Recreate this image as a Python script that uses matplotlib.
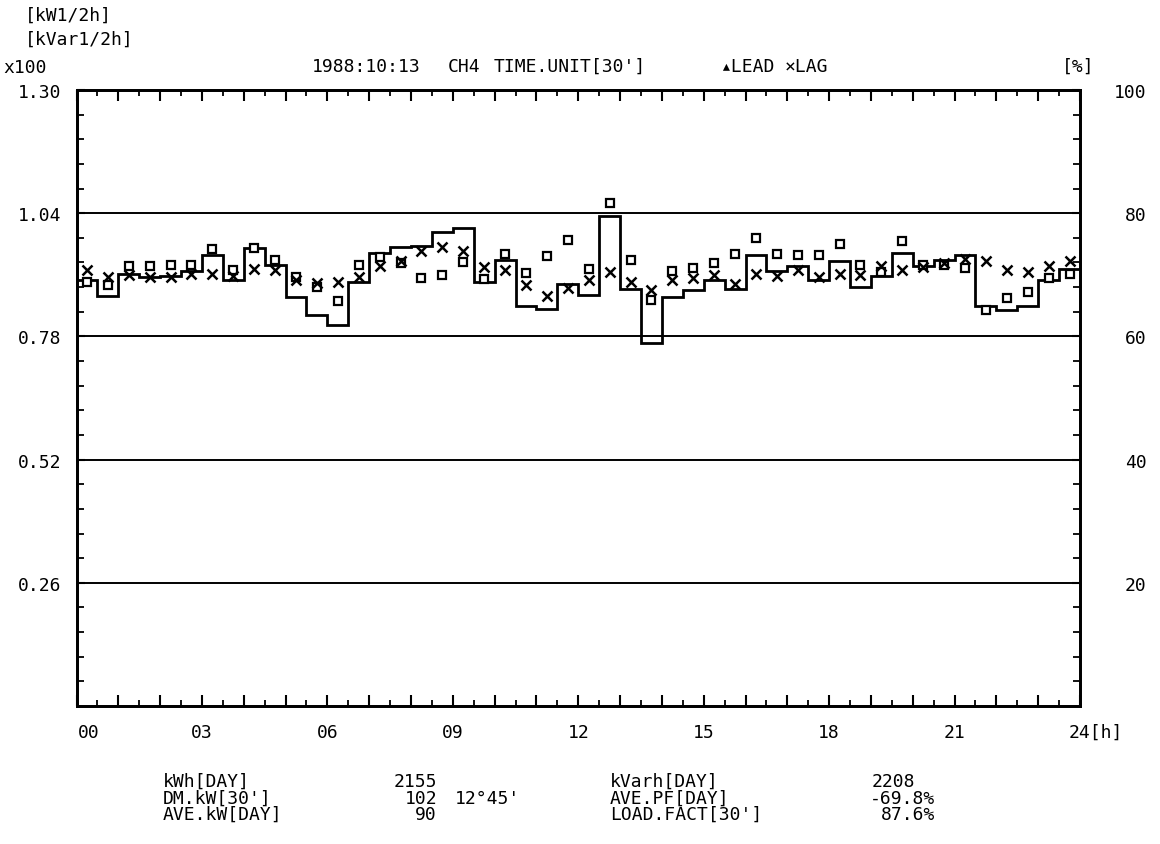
import numpy as np
import matplotlib
matplotlib.use("Agg")
import matplotlib.pyplot as plt
from matplotlib.transforms import ScaledTranslation

plt.rcParams['font.family'] = ['DejaVu Sans Mono', 'DejaVu Sans']

# ---- data (half-hour intervals, 00:00 - 24:00) ----
kw_x100 = [0.900, 0.865, 0.912, 0.905, 0.907, 0.919, 0.952, 0.900, 0.966, 0.931,
           0.863, 0.825, 0.804, 0.895, 0.956, 0.968, 0.970, 1.001, 1.008, 0.895,
           0.941, 0.844, 0.837, 0.891, 0.867, 1.034, 0.881, 0.767, 0.863, 0.877,
           0.898, 0.881, 0.951, 0.917, 0.928, 0.900, 0.940, 0.884, 0.907, 0.956,
           0.928, 0.942, 0.951, 0.844, 0.835, 0.844, 0.898, 0.923]
kvar_x100 = [0.895, 0.888, 0.928, 0.928, 0.930, 0.930, 0.965, 0.920, 0.966, 0.942,
             0.906, 0.884, 0.854, 0.931, 0.947, 0.935, 0.903, 0.910, 0.938, 0.902,
             0.954, 0.914, 0.949, 0.984, 0.923, 1.061, 0.942, 0.856, 0.919, 0.924,
             0.935, 0.954, 0.987, 0.954, 0.952, 0.952, 0.975, 0.931, 0.916, 0.982,
             0.930, 0.931, 0.924, 0.835, 0.860, 0.874, 0.903, 0.912]
pf_lag_pct = [70.7, 69.6, 69.9, 69.6, 69.6, 70.2, 70.2, 69.8, 71.0, 70.8,
              69.2, 68.7, 68.9, 69.6, 71.4, 72.3, 73.9, 74.5, 73.9, 71.2,
              70.7, 68.3, 66.5, 67.8, 69.1, 70.5, 68.8, 67.5, 69.2, 69.5,
              69.9, 68.5, 70.2, 69.8, 70.7, 69.6, 70.2, 70.0, 71.5, 70.7,
              71.2, 71.9, 72.6, 72.3, 70.7, 70.5, 71.4, 72.3]

left_ticks = [0.26, 0.52, 0.78, 1.04, 1.30]
left_labels = ['0.26', '0.52', '0.78', '1.04', '1.30']
right_ticks = [20, 40, 60, 80, 100]
right_labels = ['20', '40', '60', '80', '100']
hour_ticks = list(range(25))
hour_labels = ['00' if h == 0 else ('24[h]' if h == 24 else (f'{h:02d}' if h % 3 == 0 else ''))
               for h in hour_ticks]

summary_left = [('kWh[DAY]', '2155'), ("DM.kW[30']", '102'), ('AVE.kW[DAY]', '90')]
summary_right = [('kVarh[DAY]', '2208'), ('AVE.PF[DAY]', '-69.8%'), ("LOAD.FACT[30']", '87.6%')]
dm_time = "12\u00b045'"

W, H = 1160, 845
fig = plt.figure(figsize=(W / 100, H / 100), dpi=100)
L, R, T, B = 76.5, 1080, 91, 707
ax = fig.add_axes([L / W, (H - B) / H, (R - L) / W, (B - T) / H])

edges = np.arange(len(kw_x100) + 1) * 0.5
centers = (edges[:-1] + edges[1:]) / 2

ax.set_xlim(0, 24)
ax.set_ylim(0, 1.30)

for g in left_ticks[:-1]:
    ax.axhline(g, color='black', lw=1.4, zorder=1)

ax.stairs(kw_x100, edges, baseline=None, color='black', lw=2.0, zorder=3)
ax.plot(centers, kvar_x100, linestyle='none', marker='s', markersize=5.5,
        markerfacecolor='white', markeredgecolor='black', markeredgewidth=1.6, zorder=4)

ax2 = ax.twinx()
ax2.set_ylim(0, 100)
ax2.plot(centers, pf_lag_pct, linestyle='none', marker='x', markersize=7,
         color='black', markeredgewidth=1.8, zorder=5)

fs = 13
for a in (ax, ax2):
    for s in a.spines.values():
        s.set_linewidth(2.0)
        s.set_color('black')

ax.set_xticks(hour_ticks)
ax.set_xticklabels(hour_labels, fontsize=fs)
ax.set_xticks(np.arange(0.5, 24, 1.0), minor=True)
ax.tick_params(axis='x', which='major', direction='in', length=8, width=1.5,
               top=True, bottom=True, pad=12)
ax.tick_params(axis='x', which='minor', direction='in', length=4, width=1.3,
               top=True, bottom=True)
lbls = ax.get_xticklabels()
lbls[0].set_transform(lbls[0].get_transform() + ScaledTranslation(12 / 100, 0, fig.dpi_scale_trans))
lbls[-1].set_transform(lbls[-1].get_transform() + ScaledTranslation(16 / 100, 0, fig.dpi_scale_trans))

ax.set_yticks(left_ticks)
ax.set_yticklabels(left_labels, fontsize=fs)
ax.set_yticks(np.arange(0.052, 1.30, 0.052), minor=True)
ax.tick_params(axis='y', which='major', direction='in', length=6, width=1.5, pad=11)
ax.tick_params(axis='y', which='minor', direction='in', length=5, width=1.3)

ax2.set_yticks(right_ticks)
ax2.set_yticklabels(right_labels, fontsize=fs)
ax2.set_yticks(np.arange(4, 100, 4), minor=True)
ax2.tick_params(axis='y', which='major', direction='in', length=6, width=1.5, pad=48)
ax2.tick_params(axis='y', which='minor', direction='in', length=5, width=1.3)
for t in ax2.get_yticklabels():
    t.set_horizontalalignment('right')


def ftext(x, y, s, ha='left', **kw):
    fig.text(x / W, 1 - y / H, s, ha=ha, va='center', fontsize=fs, color='black', **kw)


ftext(25, 16, '[kW1/2h]')
ftext(25, 40, '[kVar1/2h]')
ftext(3, 68, 'x100')

ftext(312, 67, '1988:10:13')
ftext(448, 67, 'CH4')
ftext(494, 67, "TIME.UNIT[30']")
ftext(720, 67, '\u25b4LEAD')
ftext(785, 67, '\u00d7LAG')
ftext(1062, 67, '[%]')

rows_y = [782, 799, 815]
for (name, val), y in zip(summary_left, rows_y):
    ftext(163, y, name)
    ftext(437, y, val, ha='right')
ftext(455, rows_y[1], dm_time)
for (name, val), y in zip(summary_right, rows_y):
    ftext(610, y, name)
ftext(872, rows_y[0], summary_right[0][1])
ftext(935, rows_y[1], summary_right[1][1], ha='right')
ftext(935, rows_y[2], summary_right[2][1], ha='right')

fig.savefig('out.png', dpi=100, facecolor='white')
